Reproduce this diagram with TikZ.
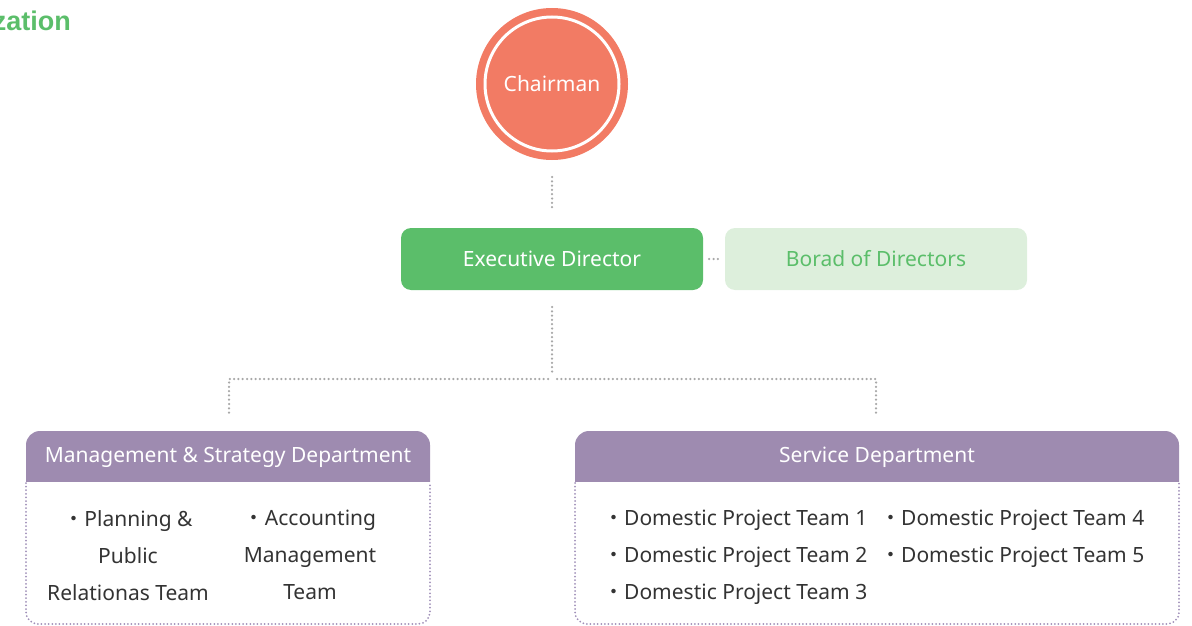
\documentclass[tikz,border=0pt]{standalone}
\usepackage{fontspec}
\setmainfont{Noto Sans}
\newfontfamily\cjkdot{Noto Sans CJK KR}
\newfontfamily\titlefont{Liberation Sans}
\newcommand{\bul}{{\cjkdot ・}}
\definecolor{chair}{HTML}{F27B64}
\definecolor{exgreen}{HTML}{5BBE6A}
\definecolor{lightgreen}{HTML}{DDEFDC}
\definecolor{purp}{HTML}{9E8BB0}
\definecolor{purpdot}{HTML}{A090B8}
\definecolor{dotgray}{HTML}{A8A8A8}
\definecolor{txt}{HTML}{333333}
\tikzset{
  dotline/.style={draw=dotgray, line width=2.5pt, line cap=round, dash pattern=on 0pt off 4.3pt},
  boxdot/.style={draw=purpdot, line width=2pt, line cap=round, dash pattern=on 0pt off 3.6pt, rounded corners=12pt},
  topbox/.style={rounded corners=10pt, minimum width=302pt, minimum height=62pt, inner sep=0pt, font=\fontsize{21}{25}\selectfont},
  hdr/.style={text=white, font=\fontsize{21}{25}\selectfont},
  team/.style={text=txt, font=\fontsize{21}{37}\selectfont, inner sep=0pt},
}
\begin{document}
\begin{tikzpicture}[x=1pt,y=-1pt]
\useasboundingbox (0,0) rectangle (1192,626);
% title fragment
\node[anchor=east, text=exgreen, font=\fontsize{27}{30}\titlefont\bfseries, inner sep=0pt] (title) at (71,21) {zation};
% chairman
\fill[chair] (552,84) circle (76);
\draw[white, line width=3pt] (552,84) circle (67);
\node[text=white, font=\fontsize{21}{25}\selectfont] (chair) at (552,84) {Chairman};
\coordinate (c1) at (552,177);
\coordinate (c2) at (552,211);
\draw[dotline] (c1) -- (c2);
% executive
\node[topbox, fill=exgreen, text=white] (exec) at (552,259) {Executive Director};
\node[topbox, fill=lightgreen, text=exgreen] (board) at (876,259) {Borad of Directors};
\draw[dotline] ([xshift=6pt]exec.east) -- ([xshift=-4pt]board.west);
\coordinate (e1) at (552,307);
\coordinate (e2) at (552,372);
\draw[dotline] (e1) -- (e2);
\coordinate (hl) at (229,379);
\coordinate (hr) at (876,379);
\coordinate (hm1) at (548,379);
\coordinate (hm2) at (557,379);
\coordinate (dl) at (229,413);
\coordinate (dr) at (876,413);
\draw[dotline] (hm1) -- (hl) -- (dl);
\draw[dotline] (hm2) -- (hr) -- (dr);
% department headers
\begin{scope}
\clip (0,0) rectangle (1192,481);
\fill[purp, rounded corners=14pt] (26,431) rectangle (430,505);
\fill[purp, rounded corners=14pt] (575,431) rectangle (1179,505);
\end{scope}
% left department
\draw[boxdot] (26,483) -- (26,624) -- (430,624) -- (430,483);
\node[hdr] (ms) at (228,457) {Management \& Strategy Department};
\node[team, align=center, anchor=north] (pr) at (128,510) {\bul Planning \&\\Public\\Relationas Team};
\node[team, align=center, anchor=north] (ac) at (310,510) {\bul Accounting\\Management\\Team};
% right department
\draw[boxdot] (575,483) -- (575,624) -- (1179,624) -- (1179,483);
\node[hdr] (sd) at (877,457) {Service Department};
\node[team, align=left, anchor=north west] (t1) at (603,510) {\bul Domestic Project Team 1\\\bul Domestic Project Team 2\\\bul Domestic Project Team 3};
\node[team, align=left, anchor=north west] (t4) at (880,510) {\bul Domestic Project Team 4\\\bul Domestic Project Team 5};
\end{tikzpicture}
\end{document}
